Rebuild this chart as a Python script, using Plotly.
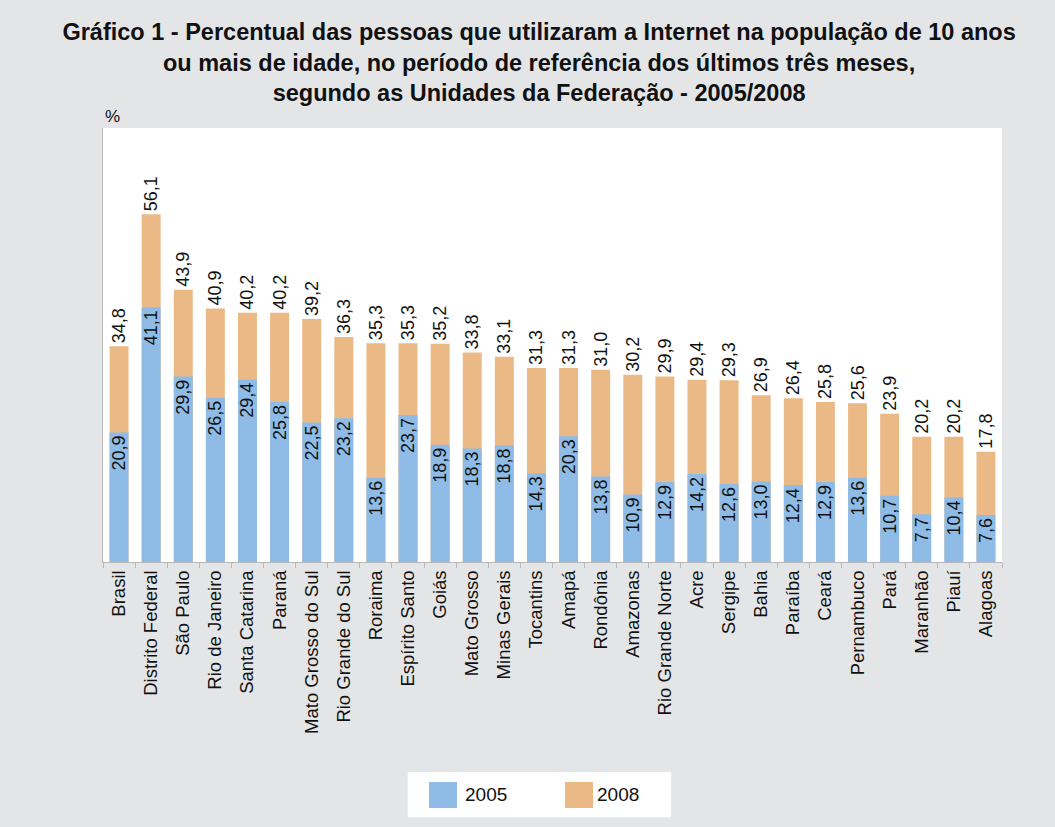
import plotly.graph_objects as go

categories = ["Brasil", "Distrito Federal", "São Paulo", "Rio de Janeiro", "Santa Catarina",
              "Paraná", "Mato Grosso do Sul", "Rio Grande do Sul", "Roraima", "Espírito Santo",
              "Goiás", "Mato Grosso", "Minas Gerais", "Tocantins", "Amapá", "Rondônia",
              "Amazonas", "Rio Grande Norte", "Acre", "Sergipe", "Bahia", "Paraíba", "Ceará",
              "Pernambuco", "Pará", "Maranhão", "Piauí", "Alagoas"]
values_2005 = [20.9, 41.1, 29.9, 26.5, 29.4, 25.8, 22.5, 23.2, 13.6, 23.7, 18.9, 18.3, 18.8,
               14.3, 20.3, 13.8, 10.9, 12.9, 14.2, 12.6, 13.0, 12.4, 12.9, 13.6, 10.7, 7.7,
               10.4, 7.6]
values_2008 = [34.8, 56.1, 43.9, 40.9, 40.2, 40.2, 39.2, 36.3, 35.3, 35.3, 35.2, 33.8, 33.1,
               31.3, 31.3, 31.0, 30.2, 29.9, 29.4, 29.3, 26.9, 26.4, 25.8, 25.6, 23.9, 20.2,
               20.2, 17.8]

C2005 = "#8fbce6"
C2008 = "#ebb985"
FONT = "Liberation Sans, Arial, sans-serif"

def fmt(v):
    return f"{v:.1f}".replace(".", ",")

fig = go.Figure()
fig.add_trace(go.Bar(
    x=categories, y=values_2008, name="2008", marker=dict(color=C2008, line=dict(width=0)),
    text=[fmt(v) for v in values_2008], textposition="outside", textangle=-90,
    cliponaxis=False, constraintext="none",
    textfont=dict(family=FONT, size=18, color="#111111"), showlegend=False,
))
fig.add_trace(go.Bar(
    x=categories, y=values_2005, name="2005", marker=dict(color=C2005, line=dict(width=0)),
    text=[fmt(v) for v in values_2005], textposition="inside", insidetextanchor="end",
    textangle=-90, constraintext="none",
    textfont=dict(family=FONT, size=18, color="#111111"), showlegend=False,
))

# Legend drawn as layout decoration
shapes = [
    dict(type="rect", xref="paper", yref="paper", x0=0.339, x1=0.632, y0=-0.588, y1=-0.484,
         fillcolor="white", line=dict(width=0), layer="below"),
    dict(type="rect", xref="paper", yref="paper", x0=(429-103)/899, x1=(457-103)/899,
         y0=(562-808)/434, y1=(562-782)/434, fillcolor=C2005, line=dict(width=0)),
    dict(type="rect", xref="paper", yref="paper", x0=(565-103)/899, x1=(593-103)/899,
         y0=(562-808)/434, y1=(562-782)/434, fillcolor=C2008, line=dict(width=0)),
]
annotations = [
    dict(text="2005", xref="paper", yref="paper", x=(463-103)/899, y=(562-795)/434,
         xanchor="left", yanchor="middle", showarrow=False,
         font=dict(family=FONT, size=19, color="#111111")),
    dict(text="2008", xref="paper", yref="paper", x=(595-103)/899, y=(562-795)/434,
         xanchor="left", yanchor="middle", showarrow=False,
         font=dict(family=FONT, size=19, color="#111111")),
    dict(text="%", xref="paper", yref="paper", x=0, y=1, xanchor="left", yanchor="bottom",
         showarrow=False, font=dict(family=FONT, size=17, color="#111111"), yshift=0),
]

fig.update_layout(
    width=1055, height=827,
    paper_bgcolor="#e4e5e7", plot_bgcolor="white",
    barmode="overlay", bargap=0.41,
    margin=dict(l=103, r=53, t=128, b=265),
    title=dict(
        text="<b>Gráfico 1 - Percentual das pessoas que utilizaram a Internet na população de 10 anos<br>"
             "ou mais de idade, no período de referência dos últimos três meses,<br>"
             "segundo as Unidades da Federação - 2005/2008</b>",
        x=0.511, xanchor="center", xref="container", y=1 - 40/827, yanchor="top", yref="container",
        font=dict(family=FONT, size=23.5, color="#111111"),
    ),
    xaxis=dict(showline=True, linecolor="#b8b8b8", linewidth=1, ticks="outside",
               tickson="boundaries", ticklen=5, tickcolor="#b8b8b8", tickangle=-90,
               tickfont=dict(family=FONT, size=18.5, color="#111111"), showgrid=False),
    yaxis=dict(range=[0, 70], showline=True, linecolor="#b8b8b8", linewidth=1,
               showticklabels=False, ticks="", showgrid=False, zeroline=False),
    shapes=shapes, annotations=annotations, showlegend=False,
)

fig.write_html("out.html", config={"displayModeBar": False},
               post_script="document.body.style.margin='0';document.body.style.overflow='hidden';")
